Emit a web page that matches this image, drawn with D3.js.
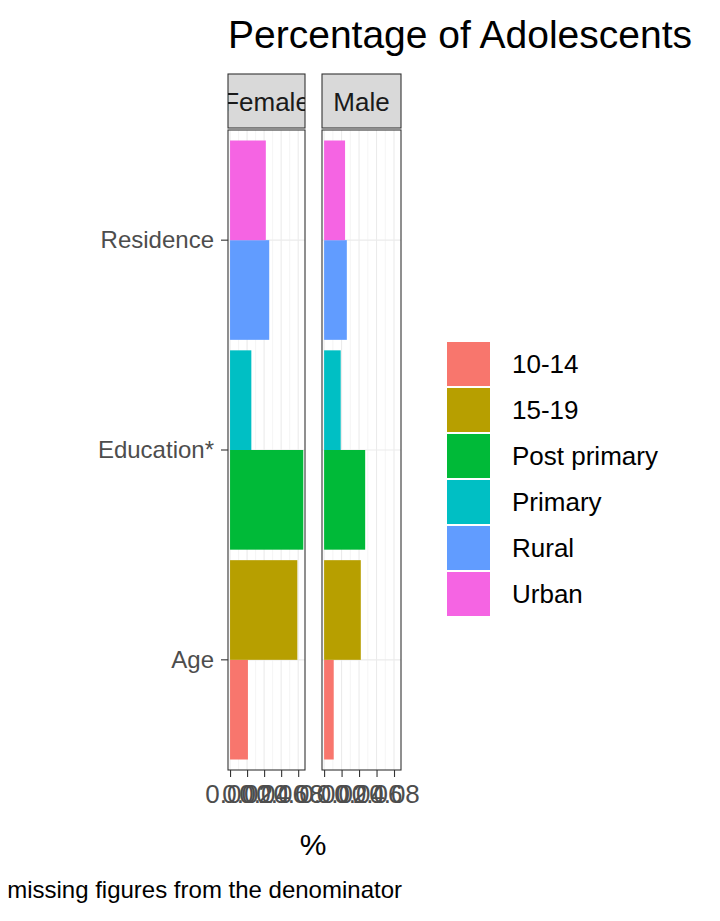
<!DOCTYPE html><html><head><script src="https://cdn.jsdelivr.net/npm/d3@7"></script>
<style>body{margin:0;background:#fff}text{font-family:Arial,"Liberation Sans",sans-serif}</style></head><body>
<svg id="c" width="720" height="921"></svg>
<script>
const groups=["Age","Education*","Residence"];
const levels=["10-14","15-19","Post primary","Primary","Rural","Urban"];
const levelGroup={"10-14":"Age","15-19":"Age","Post primary":"Education*","Primary":"Education*","Rural":"Residence","Urban":"Residence"};
const colors=["#F8766D","#B79F00","#00BA38","#00BFC4","#619CFF","#F564E3"];
const sexes=["Female","Male"];
const female=[0.021,0.079,0.086,0.025,0.046,0.042];
const male=[0.011,0.042,0.047,0.019,0.026,0.024];
const ticks=[0,0.02,0.04,0.06,0.08];
const svg=d3.select("#c");
const color=d3.scaleOrdinal(levels,colors);
const y=d3.scaleBand(groups.slice().reverse(),[130,770]).padding(0.05);
const panels=[{s:"Female",x0:228,x1:305,v:female},{s:"Male",x0:322,x1:401,v:male}];
const yk=d3.scaleBand([0,1],[0,y.bandwidth()]);
panels.forEach(p=>{
  const x=d3.scaleLinear([-0.0024,0.088],[p.x0,p.x1]);
  const g=svg.append("g");
  g.append("rect").attr("x",p.x0).attr("y",130).attr("width",p.x1-p.x0).attr("height",640).attr("fill","#fff");
  d3.range(0,9).forEach(k=>{const t=k/100;g.append("line").attr("x1",x(t)).attr("x2",x(t)).attr("y1",130).attr("y2",770).attr("stroke","#ebebeb").attr("stroke-width",k%2==0?1.1:0.55);});
  groups.forEach(gr=>g.append("line").attr("x1",p.x0).attr("x2",p.x1).attr("y1",y(gr)+y.bandwidth()/2).attr("y2",y(gr)+y.bandwidth()/2).attr("stroke","#ebebeb").attr("stroke-width",1.1));
  levels.forEach((l,i)=>{
    const gr=levelGroup[l];const idx=levels.filter(m=>levelGroup[m]==gr).indexOf(l);
    const top=y(gr)+(idx==0?yk(1):yk(0));
    g.append("rect").attr("x",x(0)).attr("width",x(p.v[i])-x(0)).attr("y",top).attr("height",yk.bandwidth()).attr("fill",color(l));
  });
  g.append("rect").attr("x",p.x0).attr("y",130).attr("width",p.x1-p.x0).attr("height",640).attr("fill","none").attr("stroke","#333").attr("stroke-width",1.1);
  const clipId="clip"+p.s;
  svg.append("clipPath").attr("id",clipId).append("rect").attr("x",p.x0).attr("y",74).attr("width",p.x1-p.x0).attr("height",54);
  g.append("rect").attr("x",p.x0).attr("y",74).attr("width",p.x1-p.x0).attr("height",54).attr("fill","#d9d9d9").attr("stroke","#333").attr("stroke-width",1.1);
  g.append("text").attr("clip-path",`url(#${clipId})`).attr("x",(p.x0+p.x1)/2).attr("y",111).attr("text-anchor","middle").attr("font-size",26).attr("fill","#1a1a1a").text(p.s);
  const ax=g.append("g").attr("transform","translate(0,770)").call(d3.axisBottom(x).tickValues(ticks).tickFormat(d3.format(".2f")).tickSize(7).tickSizeOuter(0));
  ax.select(".domain").remove();
  ax.selectAll("line").attr("stroke","#333").attr("stroke-width",1.1);
  ax.selectAll("text").attr("font-size",26).attr("fill","#4d4d4d").attr("dy","0.9em").attr("font-family","Arial,'Liberation Sans',sans-serif");
});
const ay=svg.append("g").attr("transform","translate(228,0)").call(d3.axisLeft(y).tickSize(7).tickSizeOuter(0));
ay.select(".domain").remove();
ay.selectAll("line").attr("stroke","#333").attr("stroke-width",1.1);
ay.selectAll("text").attr("font-size",24).attr("fill","#4d4d4d").attr("x",-14).attr("font-family","Arial,'Liberation Sans',sans-serif");
svg.append("text").attr("x",228).attr("y",48).attr("font-size",39).attr("fill","#000").text("Percentage of Adolescents");
svg.append("text").attr("x",313).attr("y",855).attr("text-anchor","middle").attr("font-size",30).text("%");
svg.append("text").attr("x",402).attr("y",898).attr("text-anchor","end").attr("font-size",24).text("Note: Excluded missing figures from the denominator");
const lg=svg.append("g");
levels.forEach((l,i)=>{
  lg.append("rect").attr("x",447).attr("y",342+i*46).attr("width",43).attr("height",44).attr("fill",color(l));
  lg.append("text").attr("x",512).attr("y",364+i*46).attr("dy","0.35em").attr("font-size",26).attr("fill","#000").text(l);
});
</script></body></html>
